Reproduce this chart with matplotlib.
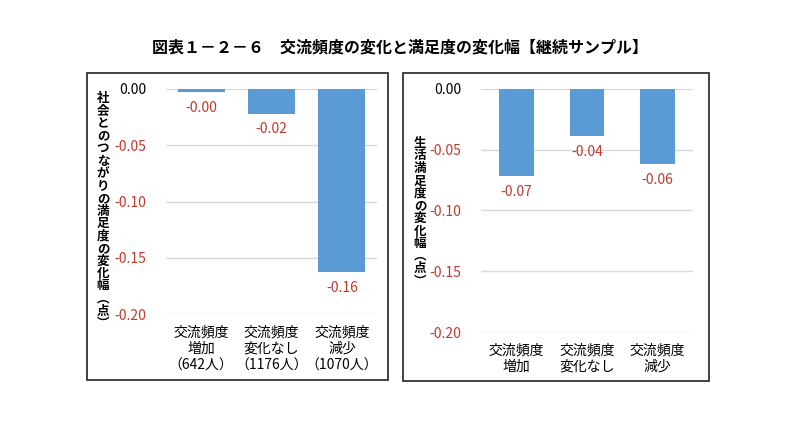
import matplotlib
matplotlib.use("Agg")
import matplotlib.pyplot as plt
from matplotlib.patches import Rectangle

plt.rcParams['font.family'] = ['Noto Sans CJK JP', 'DejaVu Sans']
plt.rcParams['axes.unicode_minus'] = False

TITLE = "図表１－２－６　交流頻度の変化と満足度の変化幅【継続サンプル】"

left_labels = ["交流頻度\n増加\n（642人）", "交流頻度\n変化なし\n（1176人）", "交流頻度\n減少\n（1070人）"]
left_values = [-0.003, -0.022, -0.163]
left_ylabel = "社会とのつながりの満足度の変化幅︵点︶"

right_labels = ["交流頻度\n増加", "交流頻度\n変化なし", "交流頻度\n減少"]
right_values = [-0.072, -0.039, -0.062]
right_ylabel = "生活満足度の変化幅︵点︶"

yticks = [0.0, -0.05, -0.10, -0.15, -0.20]

BLUE = "#5B9BD5"
RED = "#C0392B"
W, H = 800, 421


def fmt(v):
    s = "%.2f" % abs(v)
    return ("-" + s) if v < 0 else s


def draw_panel(fig, rect_px, box_px, labels, values, width, ylabel, ylabel_x, ylabel_top):
    x0, y0, x1, y1 = rect_px
    ax = fig.add_axes([x0 / W, 1 - y1 / H, (x1 - x0) / W, (y1 - y0) / H])
    bars = ax.bar(range(len(values)), values, width=width, color=BLUE, zorder=3)
    ax.set_ylim(-0.20, 0.0)
    ax.set_xlim(-0.5, len(values) - 0.5)
    ax.set_yticks(yticks)
    ax.set_yticklabels([fmt(t) for t in yticks], fontsize=10)
    for lab, t in zip(ax.get_yticklabels(), yticks):
        lab.set_color("black" if t == 0 else RED)
    ax.set_xticks(range(len(values)))
    ax.set_xticklabels(labels, fontsize=10, linespacing=1.25)
    ax.tick_params(length=0, pad=8)
    ax.tick_params(axis='y', pad=14)
    ax.grid(axis='y', color="#D9D9D9", linewidth=1, zorder=0)
    for s in ax.spines.values():
        s.set_visible(False)
    for b, v in zip(bars, values):
        ax.annotate(fmt(v), (b.get_x() + b.get_width() / 2, v),
                    xytext=(0, -11), textcoords="offset points",
                    ha="center", va="center", color=RED, fontsize=10)
    bx0, by0, bx1, by1 = box_px
    fig.patches.append(Rectangle((bx0 / W, 1 - by1 / H), (bx1 - bx0) / W, (by1 - by0) / H,
                                 transform=fig.transFigure, fill=False,
                                 edgecolor="#333333", linewidth=1.3))
    fig.text(ylabel_x / W, 1 - ylabel_top / H, "\n".join(ylabel), ha="center", va="top",
             fontsize=9, linespacing=0.95, fontweight="bold")
    return ax


fig = plt.figure(figsize=(8, 4.21), dpi=100)

fig.text(0.5, 1 - 47 / H, TITLE, ha="center", va="center", fontsize=11.5, fontweight="bold")

draw_panel(fig, (166, 89, 377, 314), (87, 73, 388, 380), left_labels, left_values, 0.67,
           left_ylabel, 103, 92)
draw_panel(fig, (481, 89, 693, 332), (403, 73, 709, 381), right_labels, right_values, 0.49,
           right_ylabel, 420, 137)

fig.savefig("out.png", dpi=100)
